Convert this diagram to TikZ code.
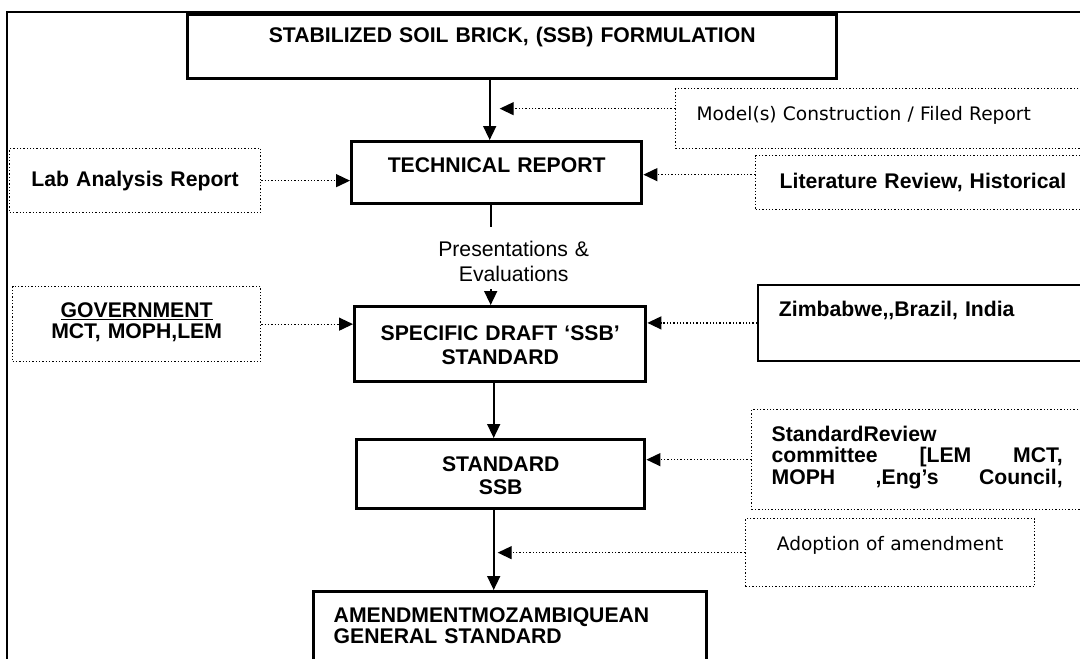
\documentclass[tikz,border=0pt]{standalone}
\usepackage{fontspec}
\setmainfont{Liberation Sans}
\newfontfamily\tahomafont{DejaVu Sans}
\usetikzlibrary{arrows.meta,positioning}
\tikzset{
		>={Triangle[length=14pt,width=13pt]},
		stage/.style={
			rectangle,
			draw=black, line width=3.4pt,
			anchor=north west,
			inner xsep=0pt, inner ysep=0pt,
			align=center,
			font=\bfseries\fontsize{21.2}{23}\selectfont},
		source/.style={
			rectangle,
			draw=black, dotted, line width=1.3pt,
			anchor=north west,
			inner ysep=0pt,
			align=left,
			font=\bfseries\fontsize{21.2}{21}\selectfont},
		lighttext/.style={font=\tahomafont\fontsize{18.6}{21}\selectfont},
		flow/.style={draw, line width=1.6pt, ->},
		feed/.style={draw, dotted, line width=1.3pt, ->},
	}
\begin{document}
\begin{tikzpicture}[x=1pt, y=-1pt]
	\useasboundingbox (0,0) rectangle (1080,659);
	\clip (0,0) rectangle (1080,659);
	% frame
	\draw[line width=2.4pt] (7,12) rectangle (1200,800);
	
	% main column
	\node[stage, text width=649pt, text height=27.6pt, text depth=36.4pt] (formulation) at (186,13) {STABILIZED SOIL BRICK, (SSB) FORMULATION};
	\node[stage, text width=290pt, text height=30.6pt, text depth=31.4pt] (techreport) at (350,140) {TECHNICAL REPORT};
	\node[stage, text width=291pt, text height=33.6pt, text depth=41.4pt,
		font=\bfseries\fontsize{21.2}{24}\selectfont] (specdraft) at (353,305) {SPECIFIC DRAFT ‘SSB’\\ STANDARD};
	\node[stage, text width=288pt, text height=31.6pt, text depth=37.4pt] (standard) at (355,438) {STANDARD\\ SSB};
	\node[stage, align=left, inner xsep=20pt, text width=353pt, text height=30.6pt, text depth=79.4pt,
		font=\bfseries\fontsize{21.2}{21}\selectfont] (amendment) at (312,590) {AMENDMENTMOZAMBIQUEAN\\ GENERAL STANDARD};
	
	% inputs
	\node[source, align=center, inner xsep=0pt, text width=251pt, text height=37.6pt, text depth=26.4pt] (lab) at (9,148) {Lab Analysis Report};
	\node[source, lighttext, inner xsep=21pt, text width=390pt, text height=31.8pt, text depth=28.2pt] (model) at (675,88) {Model(s) Construction / Filed Report};
	\node[source, inner xsep=24pt, text width=310pt, text height=32.6pt, text depth=21.4pt] (literature) at (755,155) {Literature Review, Historical};
	\node[source, align=center, inner xsep=0pt, text width=248pt, text height=30.6pt, text depth=44.4pt] (government) at (12,286) {\underline{GOVERNMENT}\\ MCT, MOPH,LEM};
	\node[source, solid, line width=1.8pt, inner xsep=21pt, text width=330pt, text height=31.6pt, text depth=44.4pt] (zimbabwe) at (757,284) {Zimbabwe,{},Brazil, India};
	\node[source, inner xsep=20pt, text width=291pt, text height=31.6pt, text depth=68.4pt,
		font=\bfseries\fontsize{21.2}{21.5}\selectfont] (review) at (751,409) {StandardReview\\ committee\hfill[LEM\hfill MCT,\\ MOPH\hfill,Eng’s\hfill Council,};
	\node[source, lighttext, align=center, inner xsep=0pt, text width=289pt, text height=31.8pt, text depth=36.2pt] (adoption) at (745,518) {Adoption of amendment};
	
	% arrows down the column
	\coordinate (axis1) at ([xshift=-7pt]techreport.north);
	\draw[flow] (axis1 |- formulation.south) -- (axis1);
	\coordinate (axis2) at ([xshift=-6pt]techreport.south);
	\draw[flow] (axis2) -- (axis2 |- specdraft.north)
		node[midway, xshift=23pt, yshift=-2.5pt, fill=white, inner sep=0pt,
			text width=160pt, align=center, text height=29.6pt, text depth=32.4pt,
			font=\fontsize{21.2}{25}\selectfont] (presentations) {Presentations \&\\ Evaluations};
	\coordinate (axis3) at ([xshift=-6.5pt]specdraft.south);
	\draw[flow] (axis3) -- (axis3 |- standard.north);
	\coordinate (axis4) at ([xshift=-7pt]standard.south);
	\draw[flow] (axis4) -- (axis4 |- amendment.north);
	
	% dotted feeds
	\draw[feed] (lab.east) -- (lab.east -| techreport.west);
	\coordinate (litout) at ([yshift=8pt]literature.west);
	\draw[feed] (litout) -- (litout -| techreport.east);
	\coordinate (modelout) at ([yshift=10pt]model.west);
	\coordinate (modelin) at (axis1 |- modelout);
	\draw[feed] (modelout) -- ([xshift=10pt]modelin);
	\draw[feed] (government.east) -- (government.east -| specdraft.west);
	\draw[feed] (zimbabwe.west) -- (zimbabwe.west -| specdraft.east);
	\draw[feed] (review.west) -- (review.west -| standard.east);
	\coordinate (adoptin) at (axis4 |- adoption.west);
	\draw[feed] (adoption.west) -- ([xshift=4pt]adoptin);
\end{tikzpicture}
\end{document}
